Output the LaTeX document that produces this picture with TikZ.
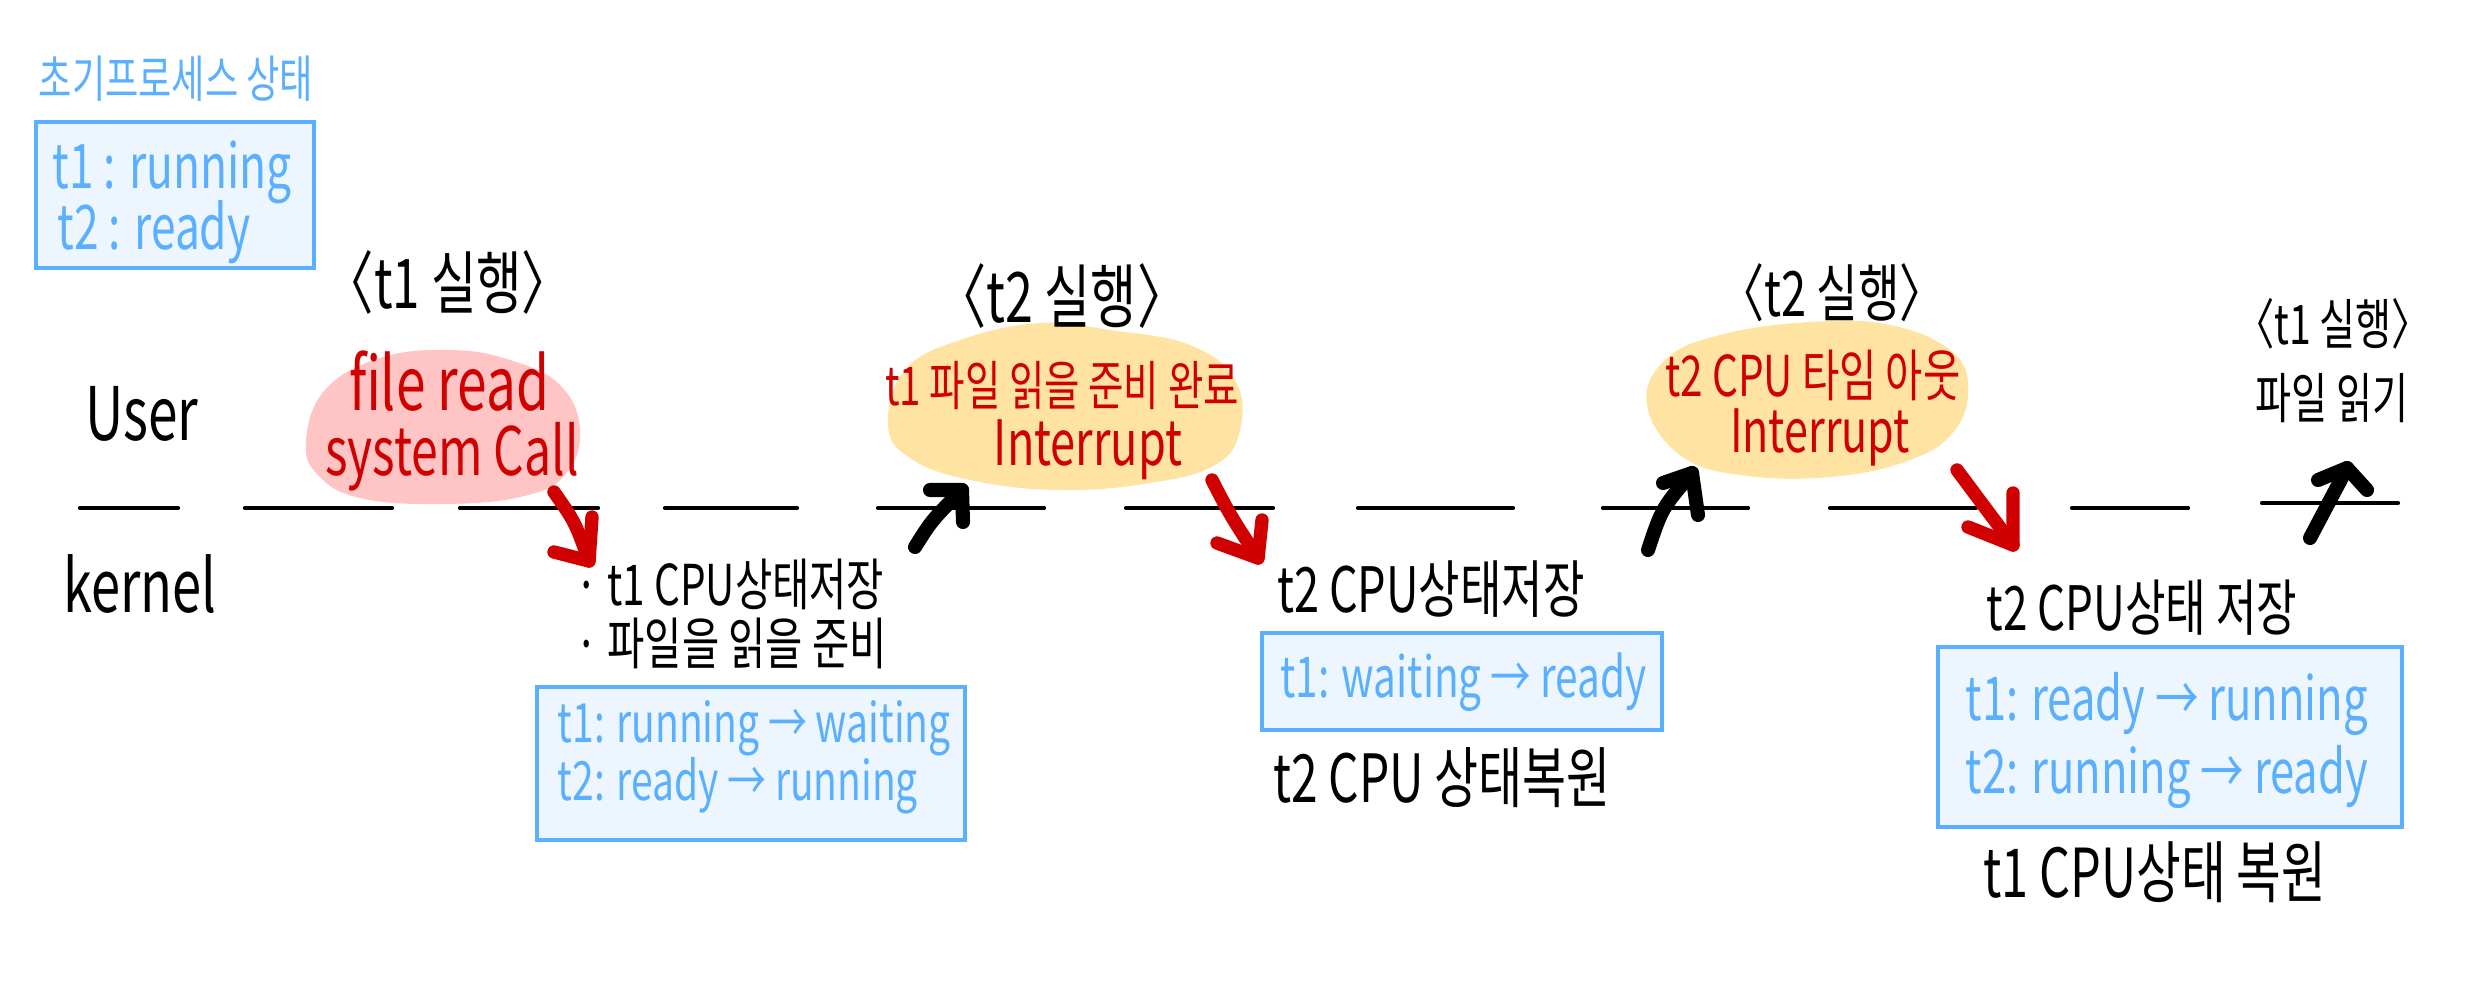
\documentclass[tikz,border=0pt]{standalone}
\usepackage{fontspec}
\setmainfont{Noto Sans CJK KR}[FakeStretch=0.72]
\definecolor{bl}{RGB}{90,176,255}
\definecolor{blfill}{RGB}{237,245,254}
\definecolor{rd}{RGB}{208,0,0}
\definecolor{pk}{RGB}{255,197,197}
\definecolor{yl}{RGB}{255,227,163}
\begin{document}
\begin{tikzpicture}[x=0.01cm,y=-0.01cm,
  lbl/.style={inner sep=0pt, anchor=base, font=\fontsize{#1}{#1}\selectfont},
  lblw/.style={inner sep=0pt, anchor=base west, font=\fontsize{#1}{#1}\selectfont},
  bluetxt/.style={text=bl},
  redtxt/.style={text=rd},
  statebox/.style={draw=bl, fill=blfill, line width=1.2pt, inner sep=0pt},
  dashseg/.style={line width=1.2pt, line cap=round},
  blkarrow/.style={line width=4pt, line cap=round, line join=round, black},
  redarrow/.style={line width=3.8pt, line cap=round, line join=round, rd},
  ]
\useasboundingbox (0,0) rectangle (2492,1000);

% blobs
\fill[pk] plot[smooth cycle, tension=0.7] coordinates {(306,441) (325,390) (380,358) (450,350) (510,360) (560,385) (580,430) (565,475) (520,497) (440,504) (360,498) (318,475)};
\fill[yl] plot[smooth cycle, tension=0.7] coordinates {(888,425) (905,370) (960,340) (1040,323) (1110,330) (1190,345) (1235,380) (1240,430) (1215,465) (1150,483) (1060,490) (970,480) (910,458)};
\fill[yl] plot[smooth cycle, tension=0.7] coordinates {(1647,405) (1665,360) (1720,335) (1810,322) (1890,325) (1950,350) (1968,385) (1955,430) (1910,460) (1830,477) (1740,475) (1680,455)};

% state boxes
\node[statebox, minimum width=2.78cm, minimum height=1.46cm] (box1) at (175,195) {};
\node[statebox, minimum width=4.28cm, minimum height=1.53cm] (box2) at (751,763.5) {};
\node[statebox, minimum width=4.00cm, minimum height=0.97cm] (box3) at (1462,681.5) {};
\node[statebox, minimum width=4.64cm, minimum height=1.80cm] (box4) at (2170,737) {};

% user/kernel boundary
\foreach \a/\b in {80/178,245/392,460/598,665/797,878/1044,1126/1273,1358/1513,1603/1748,1830/1976,2072/2188}
  \draw[dashseg] (\a,508) -- (\b,508);
\draw[dashseg] (2262,503) -- (2398,503);

% texts
\node[lbl=14.3, bluetxt] (title) at (176,97) {초기프로세스 상태};
\node[lblw=17.5, bluetxt] (b1a) at (52,188) {t1 : running};
\node[lblw=17.5, bluetxt] (b1b) at (57,249) {t2 : ready};
\node[lbl=19.5] (ex1) at (448,308) {〈t1 실행〉};
\node[lbl=21] (user) at (142,440) {User};
\node[lbl=20.7] (kernel) at (140,612) {kernel};
\node[lbl=21, redtxt] (fr1) at (449,410) {file read};
\node[lbl=19, redtxt] (fr2) at (452,475) {system Call};
\node[lblw=16] (k1a) at (575,605) {· t1 CPU상태저장};
\node[lblw=16] (k1b) at (575,664) {· 파일을 읽을 준비};
\node[lblw=15.4, bluetxt] (b2a) at (557,742) {t1: running → waiting};
\node[lblw=15.4, bluetxt] (b2b) at (557,800) {t2: ready → running};
\node[lbl=19.8] (ex2) at (1062,322) {〈t2 실행〉};
\node[lbl=15.2, redtxt] (y1a) at (1062,405) {t1 파일 읽을 준비 완료};
\node[lbl=17.8, redtxt] (y1b) at (1088,465) {Interrupt};
\node[lbl=17.8] (k2a) at (1431,612) {t2 CPU상태저장};
\node[lblw=16, bluetxt] (b3) at (1280,697) {t1: waiting → ready};
\node[lbl=18.9] (k2b) at (1442,802) {t2 CPU 상태복원};
\node[lbl=17.8] (ex3) at (1832,316) {〈t2 실행〉};
\node[lbl=16, redtxt] (y2a) at (1813,396) {t2 CPU 타임 아웃};
\node[lbl=17, redtxt] (y2b) at (1820,452) {Interrupt};
\node[lbl=17.4] (k3a) at (2142,630) {t2 CPU상태 저장};
\node[lblw=17.2, bluetxt] (b4a) at (1965,720) {t1: ready → running};
\node[lblw=17.2, bluetxt] (b4b) at (1965,793) {t2: running → ready};
\node[lbl=19.2] (k3b) at (2155,897) {t1 CPU상태 복원};
\node[lbl=15.5] (ex4) at (2333,344) {〈t1 실행〉};
\node[lbl=15.5] (rdf) at (2332,418) {파일 읽기};

% arrows
\coordinate (r1s) at (554,492); \coordinate (r1t) at (589,561);
\coordinate (r1a) at (554,552); \coordinate (r1b) at (592,517);
\draw[redarrow] (r1s) .. controls (575,522) .. (r1t);
\draw[redarrow] (r1a) -- (r1t) -- (r1b);

\coordinate (k1s) at (915,547); \coordinate (k1t) at (962,490);
\coordinate (k1a1) at (930,490); \coordinate (k1b1) at (963,522);
\draw[blkarrow] (k1s) .. controls (932,520) .. (k1t);
\draw[blkarrow] (k1a1) -- (k1t) -- (k1b1);

\coordinate (r2s) at (1212,480); \coordinate (r2t) at (1258,558);
\coordinate (r2a) at (1217,543); \coordinate (r2b) at (1262,520);
\draw[redarrow] (r2s) .. controls (1230,515) .. (r2t);
\draw[redarrow] (r2a) -- (r2t) -- (r2b);

\coordinate (k2s) at (1648,550); \coordinate (k2t) at (1692,473);
\coordinate (k2a1) at (1663,483); \coordinate (k2b1) at (1698,515);
\draw[blkarrow] (k2s) .. controls (1662,508) .. (k2t);
\draw[blkarrow] (k2a1) -- (k2t) -- (k2b1);

\coordinate (r3s) at (1957,470); \coordinate (r3t) at (2013,545);
\coordinate (r3a) at (1968,527); \coordinate (r3b) at (2013,493);
\draw[redarrow] (r3s) -- (r3t);
\draw[redarrow] (r3a) -- (r3t) -- (r3b);

\coordinate (k3s) at (2310,538); \coordinate (k3t) at (2347,468);
\coordinate (k3a1) at (2318,480); \coordinate (k3b1) at (2367,490);
\draw[blkarrow] (k3s) -- (k3t);
\draw[blkarrow] (k3a1) -- (k3t) -- (k3b1);
\end{tikzpicture}
\end{document}
